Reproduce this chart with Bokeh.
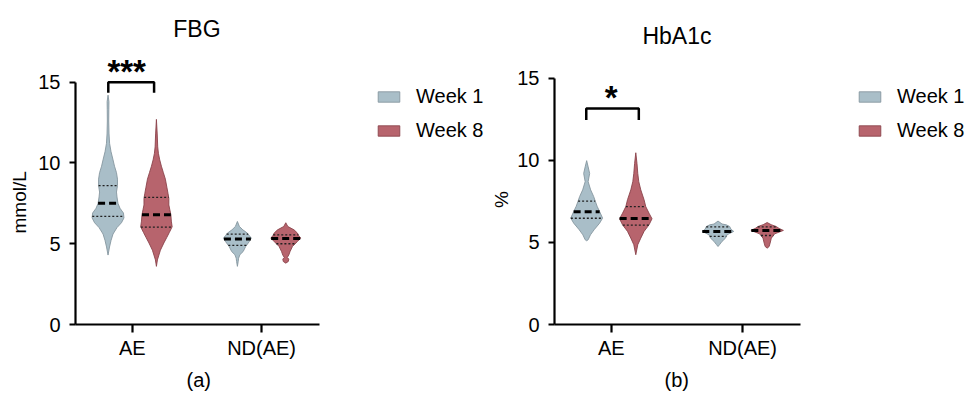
import numpy as np
from bokeh.plotting import figure
from bokeh.models import FixedTicker, Range1d, Legend, LegendItem, Title
from bokeh.layouts import row
from bokeh.embed import file_html
from bokeh.resources import INLINE
from bokeh.core.properties import value

# ---------------- data ----------------
GROUPS = ["AE", "ND(AE)"]
SERIES = ["Week 1", "Week 8"]
Y_TICKS = [0, 5, 10, 15]

# FBG (mmol/L) violin profiles: y values and density (half-width units)
FBG_AE_W1_Y = [4.3, 4.8, 5.2, 5.6, 6.0, 6.3, 6.6, 6.9, 7.2, 7.5, 7.9, 8.2, 8.6, 9.0, 9.4, 9.8, 10.2, 10.7, 11.2, 11.8, 12.6, 13.3, 13.8, 14.2]
FBG_AE_W1_D = [0, 1.5, 3, 5, 9, 13.5, 16, 15.5, 12, 10, 9, 8.5, 9.5, 9.5, 8.5, 6.5, 5, 3, 1.6, 1, 0.7, 0.8, 0.9, 0]
FBG_AE_W8_Y = [3.6, 4.0, 4.3, 4.6, 5.05, 5.4, 5.7, 6.05, 6.4, 6.8, 7.1, 7.4, 7.8, 8.1, 8.5, 9.0, 9.4, 9.8, 10.2, 10.6, 11.0, 11.8, 12.7]
FBG_AE_W8_D = [0, 1, 2.5, 4, 7.5, 10.5, 13, 15.8, 15, 14.5, 13.5, 12.5, 12.5, 11.7, 10.5, 9, 7, 5, 3.3, 2, 1.3, 0.8, 0]
FBG_ND_W1_Y = [3.6, 3.9, 4.1, 4.32, 4.52, 4.83, 5.14, 5.35, 5.5, 5.66, 5.86, 6.07, 6.38]
FBG_ND_W1_D = [0, 0.8, 1.2, 2.5, 5.8, 8.3, 12, 14, 12, 10, 5.5, 2, 0]
FBG_ND_W8_Y = [3.8, 3.9, 4.05, 4.15, 4.3, 4.52, 4.83, 5.14, 5.35, 5.5, 5.66, 5.86, 6.07, 6.3]
FBG_ND_W8_D = [0, 2.5, 3, 1.5, 3, 4.3, 6.7, 11.7, 15, 13, 11.7, 8.3, 2, 0]
# quartiles: Q1, median, Q3
FBG_AE_W1_Q = [6.7, 7.5, 8.6]
FBG_AE_W8_Q = [6.03, 6.8, 7.87]
FBG_ND_W1_Q = [4.9, 5.3, 5.6]
FBG_ND_W8_Q = [5.0, 5.33, 5.55]
FBG_SIG = "***"

# HbA1c (%) violin profiles
HBA_AE_W1_Y = [5.1, 5.16, 5.46, 5.77, 6.17, 6.48, 6.88, 7.2, 7.5, 7.8, 8.2, 8.7, 9.2, 9.6, 9.98]
HBA_AE_W1_D = [0, 1.5, 3.8, 7.5, 13, 16, 13, 10.5, 8.7, 7, 4, 1.5, 3, 1.5, 0]
HBA_AE_W8_Y = [4.25, 4.86, 5.26, 5.67, 6.07, 6.44, 6.78, 7.18, 7.6, 8.2, 8.7, 9.2, 9.8, 10.46]
HBA_AE_W8_D = [0, 2, 5, 8.3, 13.3, 16.3, 13.3, 10, 8.3, 5, 3, 2, 1.2, 0]
HBA_ND_W1_Y = [4.75, 4.86, 5.06, 5.26, 5.46, 5.67, 5.8, 5.97, 6.07, 6.12, 6.3]
HBA_ND_W1_D = [0, 1.5, 4, 7.5, 9, 15.8, 13, 11.7, 8.3, 4, 0]
HBA_ND_W8_Y = [4.65, 4.75, 4.96, 5.26, 5.52, 5.73, 5.85, 5.97, 6.08, 6.21]
HBA_ND_W8_D = [0, 2, 3, 4.2, 7.5, 16.3, 12, 9, 4, 0]
HBA_AE_W1_Q = [6.47, 6.87, 7.52]
HBA_AE_W8_Q = [6.05, 6.45, 7.18]
HBA_ND_W1_Q = [5.37, 5.67, 5.95]
HBA_ND_W8_Q = [5.42, 5.72, 5.95]
HBA_SIG = "*"

# ---------------- style ----------------
FONT = "Liberation Sans"
FILLS = ["#A9BEC8", "#B7646D"]
LINES = ["#86969F", "#8A434B"]
OFFSET = 0.187
HEIGHT = 396
FRAME_BOTTOM = 325


def make_panel(title, ylabel, xlabel, profiles, quarts, sig, px_x, px_y,
               width, border_left, axis_px, title_y, bracket, star_xy,
               legend_x, xlabel_off, ylabel_off, ylabel_standoff):
    frame_w = width - border_left
    x0 = 1 - 57.0 / px_x
    x1 = x0 + frame_w / px_x
    xb = x0 + axis_px / px_x
    y1 = FRAME_BOTTOM / px_y
    p = figure(width=width, height=HEIGHT, output_backend="svg", toolbar_location=None,
               x_range=Range1d(x0, x1), y_range=Range1d(0, y1),
               min_border_left=border_left, min_border_right=0,
               min_border_top=0, min_border_bottom=HEIGHT - FRAME_BOTTOM)
    p.outline_line_color = None
    p.xgrid.visible = False
    p.ygrid.visible = False
    p.background_fill_color = "white"

    scale = 1.0 / px_x
    first = [None, None]
    for gi, g in enumerate(GROUPS):
        for si in range(2):
            ys, ds = profiles[gi][si]
            ys = np.array(ys, float)
            hw = np.array(ds, float) * scale
            xc = (gi + 1) + (-OFFSET if si == 0 else OFFSET)
            xs = np.concatenate([xc - hw, (xc + hw)[::-1]])
            yy = np.concatenate([ys, ys[::-1]])
            r = p.patch(xs, yy, fill_color=FILLS[si], line_color=LINES[si], line_width=0.9)
            if first[si] is None:
                first[si] = r
            q1, med, q3 = quarts[gi][si]
            for qv in (q1, q3):
                w = np.interp(qv, ys, ds) * scale
                p.line([xc - w, xc + w], [qv, qv], line_color="#202020",
                       line_width=1.3, line_dash="2 2")
            w = np.interp(med, ys, ds) * scale
            p.line([xc - w, xc + w], [med, med], line_color="black",
                   line_width=3, line_dash="7 4")

    # significance bracket
    bx0, bx1, btop, bleg = bracket
    p.line([bx0, bx0, bx1, bx1], [bleg, btop, btop, bleg], line_color="black", line_width=2.5)
    p.text(x=[star_xy[0]], y=[star_xy[1]], text=[sig], text_font=value(FONT),
           text_font_size=value("33px"), text_font_style="bold",
           text_align="center", text_baseline="middle", text_color="black")

    # title
    p.text(x=[1.5], y=[title_y], text=[title], text_font=value(FONT),
           text_font_size=value("23px"), text_align="center",
           text_baseline="middle", text_color="black")

    # axes
    for ax in (p.xaxis[0], p.yaxis[0]):
        ax.axis_line_width = 2.2
        ax.axis_line_color = "black"
        ax.major_tick_line_width = 2.2
        ax.major_tick_line_color = "black"
        ax.minor_tick_line_color = None
        ax.major_tick_in = 0
        ax.major_label_text_font = FONT
        ax.major_label_text_font_size = "20px"
        ax.major_label_text_color = "black"
    p.xaxis.ticker = FixedTicker(ticks=[1, 2])
    p.xaxis.major_label_overrides = {1: GROUPS[0], 2: GROUPS[1]}
    p.xaxis.bounds = (x0, xb)
    p.xaxis.major_tick_out = 8
    p.xaxis.major_label_standoff = 4
    p.yaxis.ticker = FixedTicker(ticks=Y_TICKS)
    p.yaxis.bounds = (0, 15)
    p.yaxis.major_tick_out = 6
    p.yaxis.major_label_standoff = 9

    # axis titles placed along the axis extent (not the whole frame)
    yt = Title(text=ylabel, align="left", offset=ylabel_off, standoff=ylabel_standoff,
               text_font=FONT, text_font_size="19px", text_font_style="normal",
               text_color="black")
    p.add_layout(yt, "left")
    xt = Title(text=xlabel, align="left", offset=xlabel_off, standoff=11,
               text_font=FONT, text_font_size="20px", text_font_style="normal",
               text_color="black")
    p.add_layout(xt, "below")

    legend = Legend(items=[LegendItem(label=SERIES[0], renderers=[first[0]]),
                           LegendItem(label=SERIES[1], renderers=[first[1]])],
                    location=(legend_x, 182), glyph_width=27, glyph_height=13,
                    label_standoff=14, spacing=11, padding=0, margin=0,
                    border_line_color=None, background_fill_alpha=0,
                    label_text_font=FONT, label_text_font_size="20px",
                    label_text_color="black")
    p.add_layout(legend)
    return p


fbg_profiles = [[(FBG_AE_W1_Y, FBG_AE_W1_D), (FBG_AE_W8_Y, FBG_AE_W8_D)],
                [(FBG_ND_W1_Y, FBG_ND_W1_D), (FBG_ND_W8_Y, FBG_ND_W8_D)]]
fbg_quarts = [[FBG_AE_W1_Q, FBG_AE_W8_Q], [FBG_ND_W1_Q, FBG_ND_W8_Q]]
hba_profiles = [[(HBA_AE_W1_Y, HBA_AE_W1_D), (HBA_AE_W8_Y, HBA_AE_W8_D)],
                [(HBA_ND_W1_Y, HBA_ND_W1_D), (HBA_ND_W8_Y, HBA_ND_W8_D)]]
hba_quarts = [[HBA_AE_W1_Q, HBA_AE_W8_Q], [HBA_ND_W1_Q, HBA_ND_W8_Q]]

p1 = make_panel("FBG", "mmol/L", "(a)", fbg_profiles, fbg_quarts, FBG_SIG,
                130.0, 16.2, 486, 73, 245, 18.27,
                (1 - 0.185, 1 + 0.169, 15.0, 14.35), (0.957, 15.67), 300, 111, 91, 12)
p2 = make_panel("HbA1c", "%", "(b)", hba_profiles, hba_quarts, HBA_SIG,
                132.0, 16.47, 481, 66, 247, 17.6,
                (1 - 0.19, 1 + 0.21, 13.16, 12.45), (1.0, 13.84), 302, 110, 116.6, 5)

layout = row(p1, p2)
open("out.html", "w").write(file_html(layout, INLINE))
